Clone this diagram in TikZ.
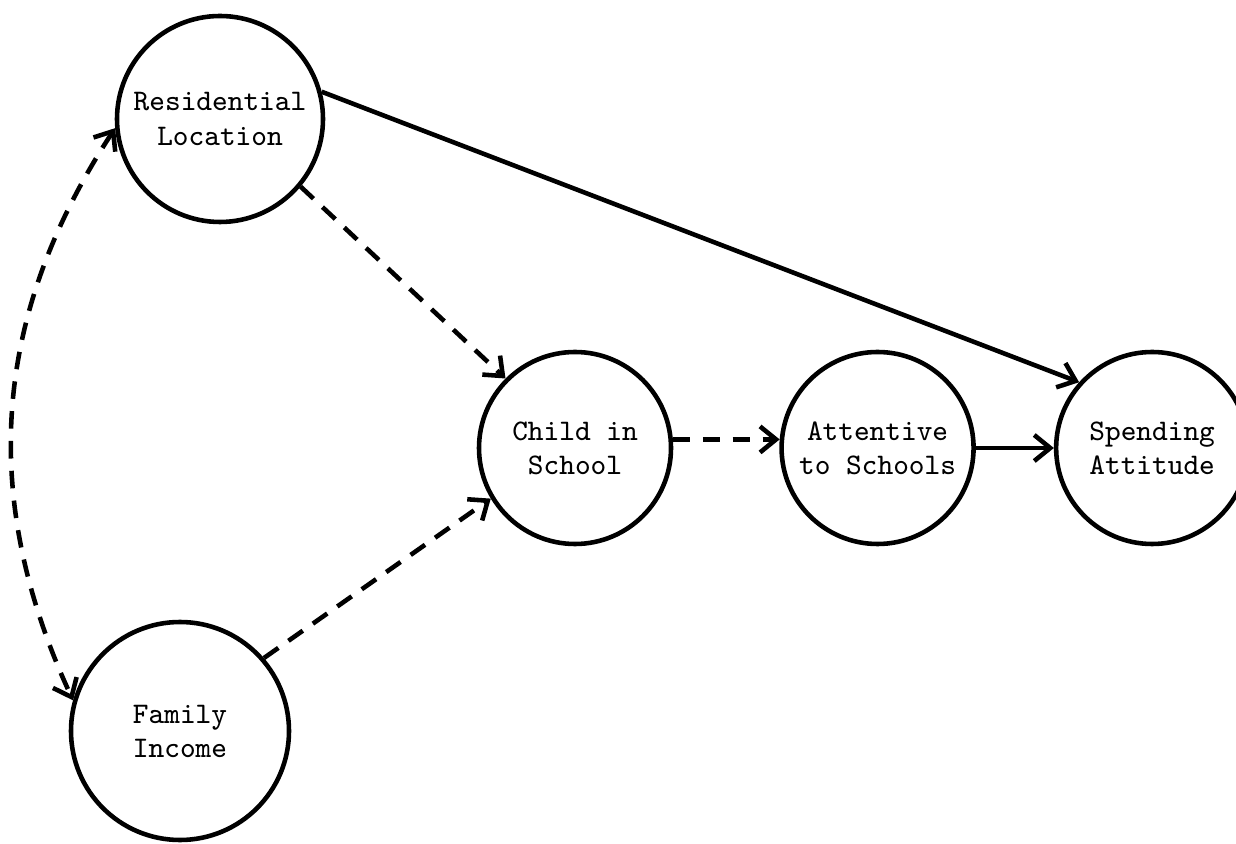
\documentclass[tikz,border=0pt]{standalone}
\usepackage{tikz}
\usetikzlibrary{arrows.meta, positioning}

\begin{document}
\begin{tikzpicture}[
    node distance=1cm,
    >={Straight Barb[length=1.6mm, width=2.6mm]},
    var/.style={draw, circle, line width=1.3pt, minimum size=1.92cm, inner sep=0pt,
                align=center, font=\ttfamily\fontsize{8.5}{9.7}\selectfont},
    arr/.style={->, line width=1.3pt},
    darr/.style={arr, dash pattern=on 5pt off 3.5pt},
]
    \useasboundingbox (0,0) rectangle (12.36,8.43);

    % Nodes
    \node[var, minimum size=2.06cm] (resid) at (2.20,7.24) {Residential\\Location};
    \node[var] (child) at (5.75,3.95) {Child in\\School};
    \node[var, right=1.06cm of child] (attent) {Attentive\\to Schools};
    \node[var, right=0.78cm of attent] (spend) {Spending\\Attitude};
    \node[var, minimum size=2.18cm] (income) at (1.80,1.12) {Family\\Income};

    % Arrows
    \draw[arr] (resid.15) -- (spend.138);
    \draw[darr] (resid.-40) -- (child.135);
    \draw[darr] (income.41) -- (child.211);
    \draw[darr] (child.5) -- (attent.175);
    \draw[arr] (attent) -- (spend);
    \draw[darr, <->] (resid.185) to[bend right=29] (income.164);
\end{tikzpicture}
\end{document}
